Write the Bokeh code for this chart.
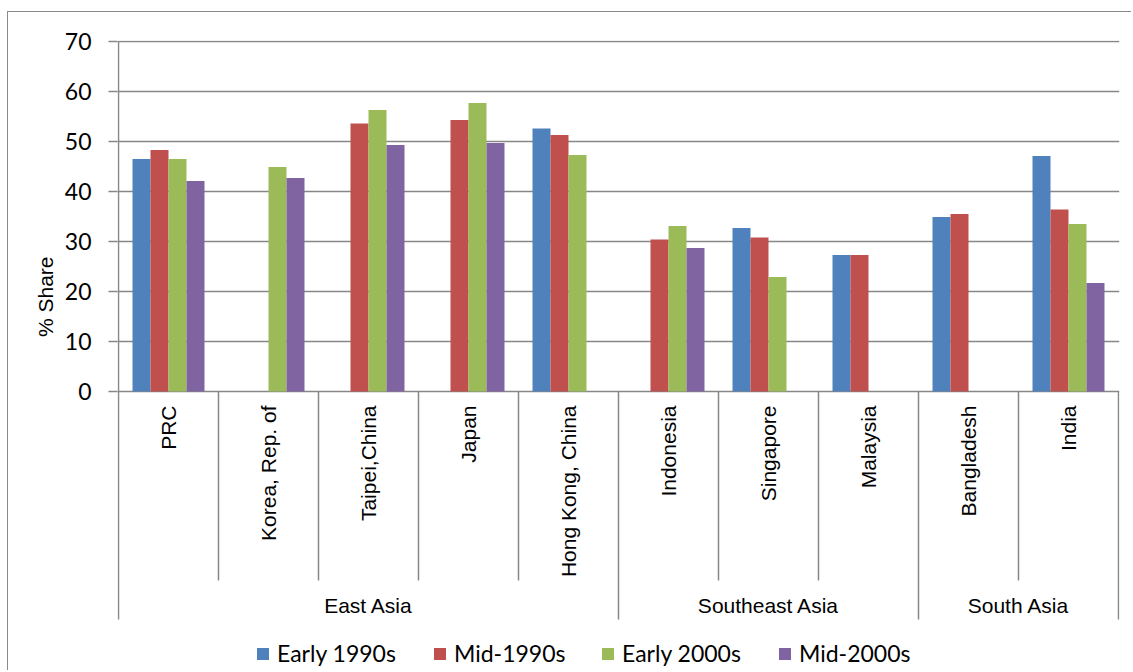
import math
from bokeh.plotting import figure
from bokeh.models import (ColumnDataSource, FactorRange, Range1d, FixedTicker,
                          Legend, LegendItem, LinearAxis)
from bokeh.transform import dodge
from bokeh.core.properties import value
from bokeh.embed import file_html
from bokeh.resources import INLINE

# ---------------- data ----------------
countries = ["PRC", "Korea, Rep. of", "Taipei,China", "Japan", "Hong Kong, China",
             "Indonesia", "Singapore", "Malaysia", "Bangladesh", "India"]
regions = ["East Asia"] * 5 + ["Southeast Asia"] * 3 + ["South Asia"] * 2
series_names = ["Early 1990s", "Mid-1990s", "Early 2000s", "Mid-2000s"]
early_1990s = [46.5, None, None, None, 52.6, None, 32.7, 27.3, 34.9, 47.1]
mid_1990s = [48.3, None, 53.6, 54.3, 51.3, 30.4, 30.8, 27.3, 35.5, 36.4]
early_2000s = [46.5, 44.9, 56.3, 57.7, 47.3, 33.1, 22.9, None, None, 33.5]
mid_2000s = [42.1, 42.7, 49.3, 49.7, None, 28.7, None, None, None, 21.7]
y_ticks = [0, 10, 20, 30, 40, 50, 60, 70]
y_label = "% Share"

colors = ["#4F81BD", "#C0504D", "#9BBB59", "#8064A2"]
grid_col = "#878787"
series = [early_1990s, mid_1990s, early_2000s, mid_2000s]

# ---------------- figure ----------------
p = figure(width=1124, height=659,
           x_range=FactorRange(factors=countries, range_padding=0.002, factor_padding=0),
           y_range=Range1d(-56.0, 70.2),
           x_axis_location=None, y_axis_location="left",
           output_backend="svg", toolbar_location=None,
           min_border_left=109, min_border_right=13, min_border_top=28, min_border_bottom=0)
p.margin = (11, 0, 0, 7)
p.styles = {"border-left": "1px solid #8a8a8a", "border-top": "1px solid #8a8a8a"}
p.outline_line_color = None
p.background_fill_color = "white"
p.border_fill_color = "white"
p.xgrid.grid_line_color = None

ax = p.yaxis[0]
ax.ticker = FixedTicker(ticks=y_ticks)
ax.axis_line_color = None
ax.major_tick_out = 9
ax.major_tick_in = 0
ax.major_tick_line_color = grid_col
ax.major_tick_line_width = 1.5
ax.minor_tick_line_color = None
ax.major_label_text_font = "Lato"
ax.major_label_text_font_size = "23px"
ax.major_label_text_color = "black"
ax.major_label_standoff = 17

p.ygrid.grid_line_color = grid_col
p.ygrid.grid_line_width = 1.5

# y-axis title: an outer axis that carries only the title text (its upper end
# sits at this tick), placed where the reference draws it
title_pos = 27
title_axis = LinearAxis(ticker=FixedTicker(ticks=[title_pos]),
                        major_label_overrides={title_pos: y_label},
                        major_label_orientation=math.pi / 2,
                        major_label_standoff=16,
                        major_label_text_font="Liberation Sans",
                        major_label_text_font_size="21px",
                        major_label_text_color="black",
                        axis_line_color=None, major_tick_line_color=None,
                        minor_tick_line_color=None, major_tick_out=0, major_tick_in=0)
p.add_layout(title_axis, "left")

# ---------------- bars ----------------
nser = len(series)
bar_w = 0.18
renderers = []
for k, (name, vals, col) in enumerate(zip(series_names, series, colors)):
    idx = [i for i, v in enumerate(vals) if v is not None]
    src = ColumnDataSource(dict(country=[countries[i] for i in idx],
                                value=[vals[i] for i in idx]))
    off = (k - (nser - 1) / 2) * bar_w
    r = p.vbar(x=dodge("country", off, range=p.x_range), top="value", bottom=0,
               width=bar_w, source=src, fill_color=col, line_color=None)
    renderers.append(r)

# ---------------- category axis (drawn) ----------------
n = len(countries)
group_names, group_starts, group_counts = [], [], []
for i, g in enumerate(regions):
    if not group_names or group_names[-1] != g:
        group_names.append(g)
        group_starts.append(i)
        group_counts.append(0)
    group_counts[-1] += 1
group_bounds = group_starts + [n]
inner_bounds = [i for i in range(1, n) if i not in group_bounds]
group_centers = [s + c / 2 for s, c in zip(group_starts, group_counts)]

# y-axis line
p.segment(x0=[0], y0=[0], x1=[0], y1=[70], line_color=grid_col, line_width=1.5)
# inner separators
p.segment(x0=inner_bounds, y0=0, x1=inner_bounds, y1=-37.8, line_color=grid_col, line_width=1.5)
# group separators
p.segment(x0=group_bounds, y0=0, x1=group_bounds, y1=-45.6, line_color=grid_col, line_width=1.5)

p.text(x=countries, y=-2.8, text=countries, angle=math.pi / 2,
       text_align="right", text_baseline="middle",
       text_font=value("Liberation Sans"), text_font_size="21px", text_color="black")
p.text(x=group_centers, y=-42.8, text=group_names,
       text_align="center", text_baseline="alphabetic",
       text_font=value("Liberation Sans"), text_font_size="21px", text_color="black")

# ---------------- legend ----------------
legend_x = [138, 315, 483, 660]
for r, name, lx in zip(renderers, series_names, legend_x):
    lg = Legend(items=[LegendItem(label=name, renderers=[r])], location=(lx, 4),
                orientation="horizontal", padding=0, margin=0, spacing=0,
                glyph_width=15, glyph_height=15, label_standoff=7, label_height=15,
                border_line_color=None, background_fill_alpha=0,
                label_text_font="Lato", label_text_font_size="23px",
                label_text_color="black")
    p.add_layout(lg)

open("out.html", "w").write(file_html(p, INLINE))
